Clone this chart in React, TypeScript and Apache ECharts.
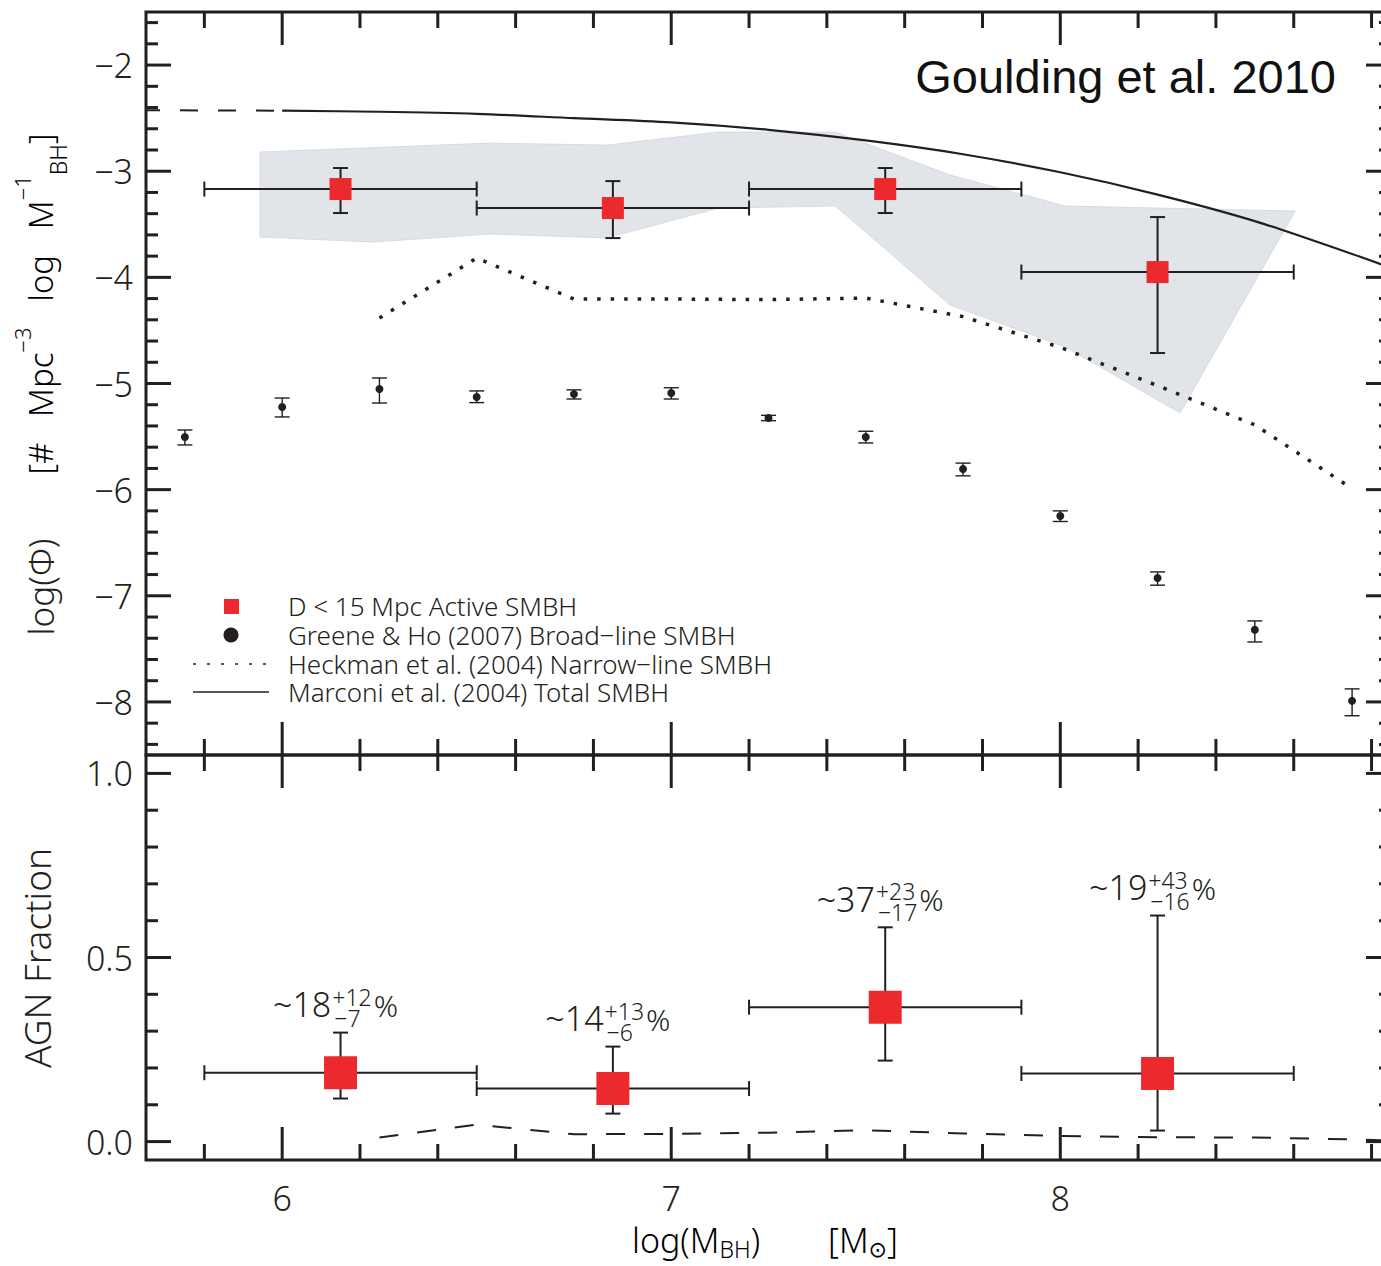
import React, { useEffect, useRef } from "react";
import * as echarts from "echarts";

// ---------------- axis ranges & ticks ----------------
const X_MIN = 5.65;
const X_MAX = 8.85;
const PHI_MIN = -8.5;
const PHI_MAX = -1.5;
const FRAC_MIN = -0.05;
const FRAC_MAX = 1.05;

const xMajorTicks = [6, 7, 8];
const xTickLabels = ["6", "7", "8"];
const xMinorTicks = [5.8, 6.2, 6.4, 6.6, 6.8, 7.2, 7.4, 7.6, 7.8, 8.2, 8.4, 8.6, 8.8];

const phiMajorTicks = [-2, -3, -4, -5, -6, -7, -8];
const phiTickLabels = ["−2", "−3", "−4", "−5", "−6", "−7", "−8"];
const phiMinorTicks = [
  -1.6, -1.8, -2.2, -2.4, -2.6, -2.8, -3.2, -3.4, -3.6, -3.8, -4.2, -4.4, -4.6, -4.8,
  -5.2, -5.4, -5.6, -5.8, -6.2, -6.4, -6.6, -6.8, -7.2, -7.4, -7.6, -7.8, -8.2, -8.4,
];

const fracMajorTicks = [0, 0.5, 1.0];
const fracTickLabels = ["0.0", "0.5", "1.0"];
const fracMinorTicks = [0.1, 0.2, 0.3, 0.4, 0.6, 0.7, 0.8, 0.9];

// ---------------- data: top panel ----------------
// D < 15 Mpc active SMBH (mass function)
const activeX = [6.15, 6.85, 7.55, 8.25];
const activeXLo = [5.8, 6.5, 7.2, 7.9];
const activeXHi = [6.5, 7.2, 7.9, 8.6];
const activePhi = [-3.168, -3.347, -3.168, -3.95];
const activePhiLo = [-3.394, -3.63, -3.394, -4.713];
const activePhiHi = [-2.97, -3.093, -2.97, -3.432];

// shaded uncertainty region
const bandTopX = [5.943, 6.535, 6.835, 7.121, 7.422, 7.717, 8.013, 8.604];
const bandTopPhi = [-2.819, -2.735, -2.754, -2.631, -2.631, -3.036, -3.328, -3.375];
const bandBotX = [8.308, 8.013, 7.717, 7.422, 7.121, 6.835, 6.535, 6.234, 5.943];
const bandBotPhi = [-5.278, -4.656, -4.261, -3.328, -3.347, -3.629, -3.592, -3.667, -3.62];

// Greene & Ho (2007) broad-line SMBH
const greeneX = [5.75, 6.0, 6.25, 6.5, 6.75, 7.0, 7.25, 7.5, 7.75, 8.0, 8.25, 8.5, 8.75];
const greenePhi = [-5.504, -5.221, -5.052, -5.127, -5.1, -5.09, -5.325, -5.504, -5.805, -6.248, -6.832, -7.32, -7.99];
const greenePhiLo = [-5.579, -5.315, -5.184, -5.18, -5.146, -5.146, -5.35, -5.56, -5.87, -6.3, -6.9, -7.435, -8.13];
const greenePhiHi = [-5.438, -5.137, -4.948, -5.07, -5.06, -5.04, -5.3, -5.45, -5.75, -6.2, -6.775, -7.237, -7.877];

// Heckman et al. (2004) narrow-line SMBH
const heckmanX = [6.25, 6.5, 6.75, 7.0, 7.25, 7.5, 7.75, 8.0, 8.25, 8.5, 8.75];
const heckmanPhi = [-4.383, -3.818, -4.204, -4.204, -4.21, -4.195, -4.37, -4.66, -5.02, -5.39, -5.99];

// Marconi et al. (2004) total SMBH
const marconiX = [6.0, 6.25, 6.5, 6.75, 7.0, 7.25, 7.5, 7.75, 8.0, 8.25, 8.5, 8.75, 8.85];
const marconiPhi = [-2.43, -2.44, -2.46, -2.5, -2.54, -2.61, -2.71, -2.84, -3.01, -3.22, -3.47, -3.78, -3.91];
const marconiExtX = [5.65, 6.0];
const marconiExtPhi = [-2.425, -2.43];

// ---------------- data: bottom panel ----------------
const agnX = [6.15, 6.85, 7.55, 8.25];
const agnXLo = [5.8, 6.5, 7.2, 7.9];
const agnXHi = [6.5, 7.2, 7.9, 8.6];
const agnFrac = [0.187, 0.144, 0.365, 0.185];
const agnFracLo = [0.117, 0.076, 0.22, 0.03];
const agnFracHi = [0.296, 0.258, 0.582, 0.614];
const agnLabelMain = ["~18", "~14", "~37", "~19"];
const agnLabelSup = ["+12", "+13", "+23", "+43"];
const agnLabelSub = ["−7", "−6", "−17", "−16"];

const heckFracX = [6.25, 6.5, 6.75, 7.0, 7.25, 7.5, 7.75, 8.0, 8.25, 8.5, 8.75, 8.85];
const heckFrac = [0.011, 0.046, 0.02, 0.021, 0.024, 0.031, 0.022, 0.015, 0.012, 0.011, 0.006, 0.003];

const legendLabels = [
  "D < 15 Mpc Active SMBH",
  "Greene & Ho (2007) Broad−line SMBH",
  "Heckman et al. (2004) Narrow−line SMBH",
  "Marconi et al. (2004) Total SMBH",
];

// ---------------- style ----------------
const FONT = '"Noto Sans", "DejaVu Sans", sans-serif';
const WEIGHT = 300;
const INK = "#231f20";
const RED = "#ec2a2e";
const BAND = "#e1e4e9";

let measureCtx: CanvasRenderingContext2D | null = null;
function textWidth(t: string, size: number): number {
  if (!measureCtx) measureCtx = document.createElement("canvas").getContext("2d");
  if (!measureCtx) return t.length * size * 0.57;
  measureCtx.font = `${WEIGHT} ${size}px ${FONT}`;
  return measureCtx.measureText(t).width;
}

function txt(text: string, x: number, y: number, size: number, align = "left", vAlign = "middle") {
  return {
    type: "text",
    x,
    y,
    style: { text, fontSize: size, fontFamily: FONT, fontWeight: WEIGHT, fill: INK, align, verticalAlign: vAlign },
  };
}

function tickSeries(gi: number, yMin: number, yMax: number, yMajor: number[], yMinor: number[], yLabels: string[], withX: boolean) {
  return {
    type: "custom",
    xAxisIndex: gi,
    yAxisIndex: gi,
    clip: false,
    silent: true,
    z: 20,
    data: [[7, (yMin + yMax) / 2]],
    encode: { x: 0, y: 1 },
    renderItem: (params: any, api: any) => {
      const lb = api.coord([X_MIN, yMin]);
      const rt = api.coord([X_MAX, yMax]);
      const left = lb[0], bottom = lb[1], right = rt[0], top = rt[1];
      const ch: any[] = [];
      const L = (x1: number, y1: number, x2: number, y2: number) =>
        ch.push({ type: "line", shape: { x1, y1, x2, y2 }, style: { stroke: INK, lineWidth: 3 } });
      xMajorTicks.forEach((v) => {
        const x = api.coord([v, yMin])[0];
        L(x, top, x, top + 33);
        L(x, bottom, x, bottom - 33);
      });
      xMinorTicks.forEach((v) => {
        const x = api.coord([v, yMin])[0];
        L(x, top, x, top + 16);
        L(x, bottom, x, bottom - 16);
      });
      yMajor.forEach((v, i) => {
        const y = api.coord([X_MIN, v])[1];
        L(left, y, left + 25, y);
        L(right, y, right - 25, y);
        ch.push(txt(yLabels[i], left - 13, y, 34, "right"));
      });
      yMinor.forEach((v) => {
        const y = api.coord([X_MIN, v])[1];
        L(left, y, left + 12, y);
        L(right, y, right - 12, y);
      });
      if (withX) {
        xMajorTicks.forEach((v, i) => {
          const x = api.coord([v, yMin])[0];
          ch.push(txt(xTickLabels[i], x, bottom + 38, 34, "center"));
        });
      }
      return { type: "group", children: ch };
    },
  };
}

function errorBarSeries(gi: number, rows: number[][], lw: number, capH: number, capV: number, z: number) {
  return {
    type: "custom",
    xAxisIndex: gi,
    yAxisIndex: gi,
    silent: true,
    clip: false,
    z,
    data: rows,
    encode: { x: 0, y: 1 },
    renderItem: (params: any, api: any) => {
      const x = api.value(0), y = api.value(1);
      const xl = api.value(2), xh = api.value(3), yl = api.value(4), yh = api.value(5);
      const pL = api.coord([xl, y]);
      const pR = api.coord([xh, y]);
      const pB = api.coord([x, yl]);
      const pT = api.coord([x, yh]);
      const st = { stroke: INK, lineWidth: lw };
      const ch: any[] = [
        { type: "line", shape: { x1: pB[0], y1: pB[1], x2: pT[0], y2: pT[1] }, style: st },
        { type: "line", shape: { x1: pB[0] - capH, y1: pB[1], x2: pB[0] + capH, y2: pB[1] }, style: st },
        { type: "line", shape: { x1: pT[0] - capH, y1: pT[1], x2: pT[0] + capH, y2: pT[1] }, style: st },
      ];
      if (xl !== xh) {
        ch.push({ type: "line", shape: { x1: pL[0], y1: pL[1], x2: pR[0], y2: pR[1] }, style: st });
        ch.push({ type: "line", shape: { x1: pL[0], y1: pL[1] - capV, x2: pL[0], y2: pL[1] + capV }, style: st });
        ch.push({ type: "line", shape: { x1: pR[0], y1: pR[1] - capV, x2: pR[0], y2: pR[1] + capV }, style: st });
      }
      return { type: "group", children: ch };
    },
  };
}

function buildOption() {
  const activeRows = activeX.map((x, i) => [x, activePhi[i], activeXLo[i], activeXHi[i], activePhiLo[i], activePhiHi[i]]);
  const greeneRows = greeneX.map((x, i) => [x, greenePhi[i], x, x, greenePhiLo[i], greenePhiHi[i]]);
  const agnRows = agnX.map((x, i) => [x, agnFrac[i], agnXLo[i], agnXHi[i], agnFracLo[i], agnFracHi[i]]);

  const titleRich = {
    m: { fontSize: 33, fontFamily: FONT, fontWeight: WEIGHT, color: INK, lineHeight: 58 },
    sp: { fontSize: 22, fontFamily: FONT, fontWeight: WEIGHT, color: INK, lineHeight: 28, verticalAlign: "top" },
    sb: { fontSize: 23, fontFamily: FONT, fontWeight: WEIGHT, color: INK, lineHeight: 30, verticalAlign: "bottom" },
  };

  const legendY = [606, 635, 664, 692];

  return {
    animation: false,
    backgroundColor: "#ffffff",
    grid: [
      { left: 146, top: 12, width: 1245, height: 743, show: true, borderColor: INK, borderWidth: 3, backgroundColor: "transparent" },
      { left: 146, top: 755, width: 1245, height: 405, show: true, borderColor: INK, borderWidth: 3, backgroundColor: "transparent" },
    ],
    xAxis: [
      { type: "value", gridIndex: 0, min: X_MIN, max: X_MAX, show: false },
      { type: "value", gridIndex: 1, min: X_MIN, max: X_MAX, show: false },
    ],
    yAxis: [
      { type: "value", gridIndex: 0, min: PHI_MIN, max: PHI_MAX, show: false },
      { type: "value", gridIndex: 1, min: FRAC_MIN, max: FRAC_MAX, show: false },
    ],
    series: [
      // shaded region
      {
        type: "custom",
        xAxisIndex: 0,
        yAxisIndex: 0,
        silent: true,
        z: 1,
        data: [[bandTopX[0], bandTopPhi[0]]],
        encode: { x: 0, y: 1 },
        renderItem: (params: any, api: any) => {
          const pts: number[][] = [];
          bandTopX.forEach((x, i) => pts.push(api.coord([x, bandTopPhi[i]])));
          bandBotX.forEach((x, i) => pts.push(api.coord([x, bandBotPhi[i]])));
          return { type: "polygon", shape: { points: pts }, style: { fill: BAND, stroke: "#d2d6dc", lineWidth: 0.8 } };
        },
      },
      // Marconi
      {
        type: "line",
        xAxisIndex: 0,
        yAxisIndex: 0,
        z: 3,
        symbol: "none",
        smooth: 0.3,
        data: marconiX.map((x, i) => [x, marconiPhi[i]]),
        lineStyle: { color: INK, width: 2.2 },
      },
      {
        type: "line",
        xAxisIndex: 0,
        yAxisIndex: 0,
        z: 3,
        symbol: "none",
        data: marconiExtX.map((x, i) => [x, marconiExtPhi[i]]),
        lineStyle: { color: INK, width: 2, type: [18, 20], dashOffset: 4 },
      },
      // Heckman dotted
      {
        type: "line",
        xAxisIndex: 0,
        yAxisIndex: 0,
        z: 3,
        symbol: "none",
        data: heckmanX.map((x, i) => [x, heckmanPhi[i]]),
        lineStyle: { color: INK, width: 3.5, type: [3.5, 10], cap: "butt" },
      },
      // Greene error bars + points
      errorBarSeries(0, greeneRows, 1.4, 7.5, 0, 4),
      {
        type: "scatter",
        xAxisIndex: 0,
        yAxisIndex: 0,
        z: 5,
        symbol: "circle",
        symbolSize: 8,
        itemStyle: { color: INK, opacity: 1 },
        data: greeneX.map((x, i) => [x, greenePhi[i]]),
      },
      // Active SMBH
      errorBarSeries(0, activeRows, 2, 7.5, 7.5, 6),
      {
        type: "scatter",
        xAxisIndex: 0,
        yAxisIndex: 0,
        z: 7,
        symbol: "rect",
        symbolSize: 22,
        itemStyle: { color: RED, opacity: 1 },
        data: activeX.map((x, i) => [x, activePhi[i]]),
      },
      // bottom panel dashed
      {
        type: "line",
        xAxisIndex: 1,
        yAxisIndex: 1,
        z: 3,
        symbol: "none",
        data: heckFracX.map((x, i) => [x, heckFrac[i]]),
        lineStyle: { color: INK, width: 2, type: [19, 19] },
      },
      errorBarSeries(1, agnRows, 2, 7.5, 7.5, 6),
      {
        type: "scatter",
        xAxisIndex: 1,
        yAxisIndex: 1,
        z: 7,
        symbol: "rect",
        symbolSize: 33,
        itemStyle: { color: RED, opacity: 1 },
        data: agnX.map((x, i) => [x, agnFrac[i]]),
      },
      // fraction labels
      {
        type: "custom",
        xAxisIndex: 1,
        yAxisIndex: 1,
        silent: true,
        clip: false,
        z: 8,
        data: agnX.map((x, i) => [x, agnFracHi[i]]),
        encode: { x: 0, y: 1 },
        renderItem: (params: any, api: any) => {
          const i = params.dataIndex;
          const p = api.coord([api.value(0), api.value(1)]);
          const mainW = textWidth(agnLabelMain[i], 34);
          const supW = Math.max(textWidth(agnLabelSup[i], 23), textWidth(agnLabelSub[i], 23) + 2);
          const pctW = textWidth("%", 30);
          const total = mainW + supW + pctW + 3;
          const x0 = p[0] - 5 - total / 2 + mainW;
          const cap = p[1];
          return {
            type: "group",
            children: [
              txt(agnLabelMain[i], x0, cap - 28.5, 34, "right"),
              txt(agnLabelSup[i], x0 + 1, cap - 36, 23, "left"),
              txt(agnLabelSub[i], x0 + 3, cap - 15, 23, "left"),
              txt("%", x0 + supW + 3, cap - 27.5, 30, "left"),
            ],
          };
        },
      },
      tickSeries(0, PHI_MIN, PHI_MAX, phiMajorTicks, phiMinorTicks, phiTickLabels, false),
      tickSeries(1, FRAC_MIN, FRAC_MAX, fracMajorTicks, fracMinorTicks, fracTickLabels, true),
    ],
    graphic: [
      {
        type: "text",
        x: 1336,
        y: 76,
        style: {
          text: "Goulding et al. 2010",
          fontSize: 47,
          fontFamily: '"Liberation Sans", Arial, sans-serif',
          fill: "#111111",
          align: "right",
          verticalAlign: "middle",
        },
      },
      // legend
      { type: "rect", shape: { x: 224, y: 599, width: 15, height: 15 }, style: { fill: RED } },
      { type: "circle", shape: { cx: 231, cy: legendY[1], r: 7.5 }, style: { fill: INK } },
      {
        type: "line",
        shape: { x1: 193, y1: legendY[2], x2: 266, y2: legendY[2] },
        style: { stroke: INK, lineWidth: 1.5, lineDash: [3, 11] },
      },
      { type: "line", shape: { x1: 193, y1: legendY[3], x2: 269, y2: legendY[3] }, style: { stroke: INK, lineWidth: 1.5 } },
      ...legendLabels.map((t, i) => txt(t, 288, legendY[i], 26, "left")),
      // y-axis titles
      {
        type: "text",
        x: 40,
        y: 587,
        rotation: Math.PI / 2,
        style: { text: "log(Φ)", fontSize: 35, fontFamily: FONT, fontWeight: WEIGHT, fill: INK, align: "center", verticalAlign: "middle" },
      },
      {
        type: "text",
        x: 40,
        y: 304,
        rotation: Math.PI / 2,
        style: {
          text: "{m|[#   Mpc}{sp|−3}{m|   log   M}{sp|−1}{sb|BH}{m|]}",
          rich: titleRich,
          align: "center",
          verticalAlign: "middle",
        },
      },
      {
        type: "text",
        x: 36,
        y: 958,
        rotation: Math.PI / 2,
        style: { text: "AGN Fraction", fontSize: 37, fontFamily: FONT, fontWeight: WEIGHT, fill: INK, align: "center", verticalAlign: "middle" },
      },
      // x-axis title
      {
        type: "text",
        x: 632,
        y: 1240,
        style: {
          text: "{m|log(M}{sb|BH}{m|)}",
          rich: {
            m: { fontSize: 34, fontFamily: FONT, fontWeight: WEIGHT, color: INK, lineHeight: 40 },
            sb: { fontSize: 23, fontFamily: FONT, fontWeight: WEIGHT, color: INK, lineHeight: 14, verticalAlign: "bottom" },
          },
          align: "left",
          verticalAlign: "middle",
        },
      },
      {
        type: "text",
        x: 828,
        y: 1240,
        style: {
          text: "{m|[M}{sb|⊙}{m|]}",
          rich: {
            m: { fontSize: 34, fontFamily: FONT, fontWeight: WEIGHT, color: INK, lineHeight: 40 },
            sb: { fontSize: 22, fontFamily: '"DejaVu Sans", sans-serif', color: INK, lineHeight: 14, verticalAlign: "bottom" },
          },
          align: "left",
          verticalAlign: "middle",
        },
      },
    ],
  };
}

export default function App() {
  const ref = useRef<HTMLDivElement>(null);
  useEffect(() => {
    if (!ref.current) return;
    const chart = echarts.init(ref.current, undefined, { renderer: "svg" });
    chart.setOption(buildOption() as any);
    return () => chart.dispose();
  }, []);
  return (
    <div style={{ position: "fixed", left: 0, top: 0, width: 1381, height: 1266, overflow: "hidden", background: "#fff" }}>
      <div ref={ref} style={{ width: 1400, height: 1266 }} />
    </div>
  );
}
